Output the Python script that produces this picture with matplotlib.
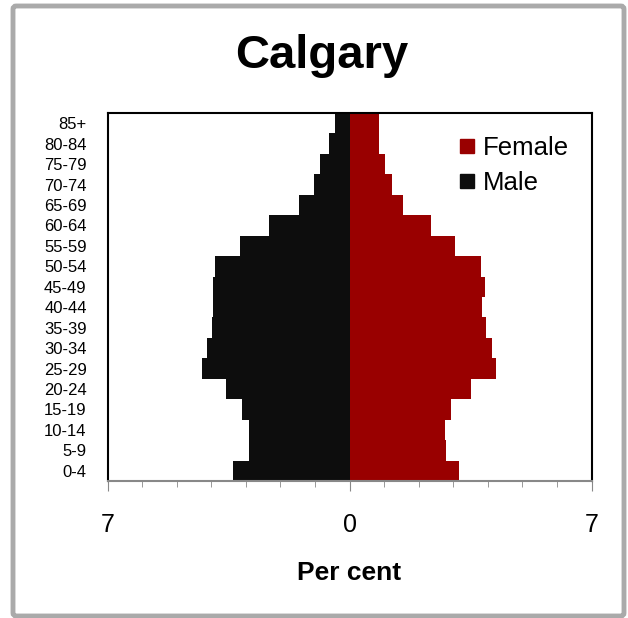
import matplotlib.pyplot as plt
from matplotlib.lines import Line2D
from matplotlib.patches import FancyBboxPatch

plt.rcParams['font.family'] = ['Liberation Sans', 'DejaVu Sans']

# Age groups, bottom to top
ages = ['0-4', '5-9', '10-14', '15-19', '20-24', '25-29', '30-34', '35-39', '40-44',
        '45-49', '50-54', '55-59', '60-64', '65-69', '70-74', '75-79', '80-84', '85+']
# per cent of population
male = [3.38, 2.90, 2.90, 3.12, 3.56, 4.27, 4.13, 3.99, 3.96,
        3.96, 3.89, 3.16, 2.34, 1.47, 1.04, 0.85, 0.60, 0.41]
female = [3.17, 2.80, 2.77, 2.95, 3.52, 4.24, 4.11, 3.95, 3.82,
          3.92, 3.81, 3.05, 2.35, 1.56, 1.23, 1.04, 0.85, 0.85]

male_col = '#0d0d0d'
female_col = '#990000'

fig = plt.figure(figsize=(6.28, 6.18), dpi=100)
ax = fig.add_axes([107.5/628, 1-481/618, 484/628, 368/618])

y = range(len(ages))
ax.barh(y, [-v for v in male], height=1.0, color=male_col, edgecolor='none')
ax.barh(y, female, height=1.0, color=female_col, edgecolor='none')

ax.set_xlim(-7, 7)
ax.set_ylim(-0.5, len(ages) - 0.5)
ax.set_yticks(list(y))
ax.set_yticklabels(ages, fontsize=12)
ax.tick_params(axis='y', length=0, pad=15)

ax.set_xticks([-7, 0, 7])
ax.set_xticklabels(['7', '0', '7'], fontsize=18)
ax.set_xticks(range(-7, 8), minor=True)
ax.tick_params(axis='x', which='major', length=7, color='#888888', pad=16)
ax.tick_params(axis='x', which='minor', length=4, color='#888888')

for s in ['left', 'right', 'top']:
    ax.spines[s].set_color('black')
    ax.spines[s].set_linewidth(1.5)
ax.spines['bottom'].set_color('#888888')
ax.spines['bottom'].set_linewidth(1.5)

ax.set_xlabel('Per cent', fontsize=19, fontweight='bold', labelpad=17)

handles = [Line2D([], [], marker='s', linestyle='none', color=female_col, markersize=10),
           Line2D([], [], marker='s', linestyle='none', color=male_col, markersize=10)]
ax.legend(handles, ['Female', 'Male'], loc='upper right', frameon=False, fontsize=18.5,
          handletextpad=0.1, handlelength=1.0, borderaxespad=0.2, labelspacing=0.43,
          bbox_to_anchor=(0.985, 0.98))

fig.text(321.5/628, 1-56/618, 'Calgary', ha='center', va='center', fontsize=34, fontweight='bold')

# outer gray frame
fig.patches.append(FancyBboxPatch((13/628, 1-616/618), 611/628, 610/618,
                                  boxstyle='round,pad=0,rounding_size=0.005',
                                  transform=fig.transFigure, fill=False,
                                  edgecolor='#aaaaaa', linewidth=3.5))

fig.savefig('out.png', dpi=100)
